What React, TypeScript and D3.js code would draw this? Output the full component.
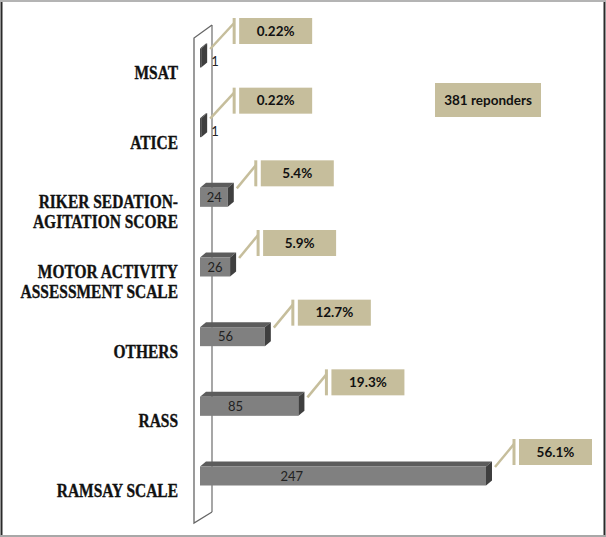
import React from "react";
import * as d3 from "d3";

const categories = [
  "MSAT",
  "ATICE",
  "RIKER SEDATION-|AGITATION SCORE",
  "MOTOR ACTIVITY|ASSESSMENT SCALE",
  "OTHERS",
  "RASS",
  "RAMSAY SCALE",
];
const counts = [1, 1, 24, 26, 56, 85, 247];
const percents = ["0.22%", "0.22%", "5.4%", "5.9%", "12.7%", "19.3%", "56.1%"];
const noteText = "381 reponders";

const W = 606;
const H = 537;

export default function App() {
  const x = d3.scaleLinear().domain([0, 247]).range([200, 486]);
  const y = d3.scalePoint<string>().domain(categories).range([58, 476]);
  const barH = 19;
  const dx = 6;
  const dy = 5;
  const tan = "#c6be9c";
  const boxW = 73;
  const boxH = 26;

  return (
    <div style={{ position: "fixed", left: 0, top: 0 }}>
      <svg width={W} height={H} style={{ display: "block", background: "#fff" }}>
        {/* frame */}
        <rect x={0} y={0} width={W} height={2} fill="#b4b4b4" />
        <line x1={1.5} y1={2} x2={1.5} y2={535} stroke="#2a2a2a" strokeWidth={2} />
        <line x1={604.5} y1={2} x2={604.5} y2={535} stroke="#2a2a2a" strokeWidth={2} />
        <rect x={0} y={535} width={W} height={2} fill="#a8a8a8" />

        {/* wall back line */}
        <line x1={212} y1={25} x2={212} y2={512} stroke="#777" strokeWidth={1.3} />

        {categories.map((c, i) => {
          const cy = y(c)!;
          const x0 = x(0);
          const xe = x(counts[i]);
          const top = cy - barH / 2;
          const bot = cy + barH / 2;
          const len = xe - x0;
          const small = len < 12;
          const vx = xe + dx + (small ? 27 : 22);
          const bTop = cy - 24 - boxH / 2 - (small ? 3 : 0);
          return (
            <g key={c}>
              {/* top face */}
              <polygon
                points={`${x0},${top} ${x0 + dx},${top - dy} ${xe + dx},${top - dy} ${xe},${top}`}
                fill={small ? "#3c3c3c" : "#5c5c5c"}
              />
              {/* front face */}
              <rect x={x0} y={top} width={len} height={barH} fill={small ? "#4a4a4a" : "#808080"} />
              {/* side face */}
              <polygon
                points={`${xe},${top} ${xe + dx},${top - dy} ${xe + dx},${bot - dy} ${xe},${bot}`}
                fill="#3f3f3f"
              />
              {/* value label */}
              <text
                x={small ? xe + dx + 4 : x0 + len * 0.3 + 6}
                y={small ? cy + 8 : cy + 4.5}
                textAnchor={small ? "start" : "middle"}
                fontFamily="Lato, 'Open Sans', sans-serif"
                fontSize={13}
                fill="#222"
              >
                {counts[i]}
              </text>
              {/* leader */}
              <line
                x1={xe + dx + 3}
                y1={cy - 9}
                x2={vx}
                y2={bTop + 5}
                stroke={tan}
                strokeWidth={2.5}
              />
              <line x1={vx} y1={bTop} x2={vx} y2={bTop + boxH} stroke={tan} strokeWidth={3} />
              <rect x={vx + 5} y={bTop} width={boxW} height={boxH} fill={tan} />
              <text
                x={vx + 5 + boxW / 2}
                y={bTop + boxH / 2 + 4.5}
                textAnchor="middle"
                fontFamily="Lato, 'Open Sans', sans-serif"
                fontWeight="bold"
                fontSize={13.5}
                fill="#111"
              >
                {percents[i]}
              </text>
            </g>
          );
        })}

        {/* wall front line and caps */}
        <polyline
          points="212,25 194,38 194,523 212,512"
          fill="none"
          stroke="#666"
          strokeWidth={1.3}
        />

        {/* category labels */}
        {categories.map((c) => {
          const lines = c.split("|");
          const cy = y(c)! + 15;
          const lh = 20;
          return (
            <g key={"l" + c} transform={`translate(178,0) scale(0.86,1)`}>
              {lines.map((ln, j) => (
                <text
                  key={j}
                  x={0}
                  y={cy + (j - (lines.length - 1) / 2) * lh + 6}
                  textAnchor="end"
                  fontFamily="'Liberation Serif', serif"
                  fontWeight="bold"
                  fontSize={18}
                  fill="#111"
                  stroke="#111"
                  strokeWidth={0.35}
                >
                  {ln}
                </text>
              ))}
            </g>
          );
        })}

        {/* note */}
        <rect x={435} y={83} width={106} height={34} fill={tan} />
        <text
          x={488}
          y={104.5}
          textAnchor="middle"
          fontFamily="Lato, 'Open Sans', sans-serif"
          fontWeight="bold"
          fontSize={13.5}
          fill="#111"
        >
          {noteText}
        </text>
      </svg>
    </div>
  );
}
